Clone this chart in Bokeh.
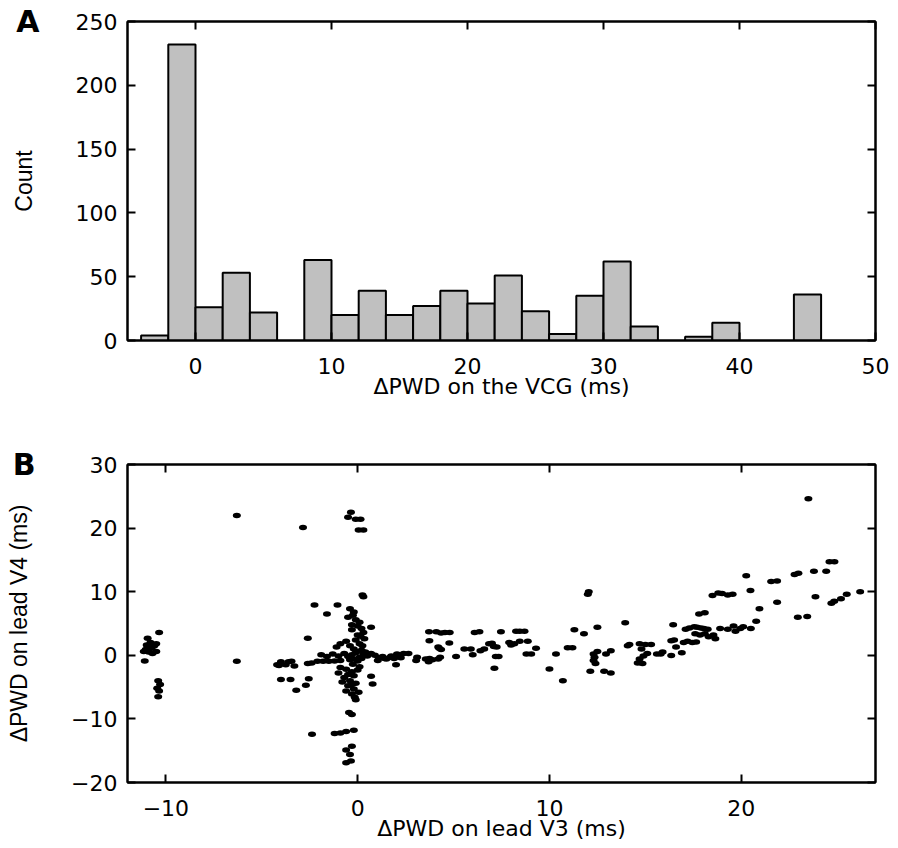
from bokeh.plotting import figure
from bokeh.models import Range1d, LinearAxis, FixedTicker, ColumnDataSource, CustomLabelingPolicy
from bokeh.layouts import column
from bokeh.embed import file_html
from bokeh.resources import INLINE

# ---------------- data ----------------
# Panel A: histogram of dPWD on the VCG (bin start, ms) and counts (bin width 2 ms)
bin_start = [-4, -2, 0, 2, 4, 8, 10, 12, 14, 16, 18, 20, 22, 24, 26, 28, 30, 32, 36, 38, 44]
bin_width = 2
counts = [4, 232, 26, 53, 22, 63, 20, 39, 20, 27, 39, 29, 51, 23, 5, 35, 62, 11, 3, 14, 36]
hist_xticks = [0, 10, 20, 30, 40, 50]
hist_yticks = [0, 50, 100, 150, 200, 250]

# Panel B: dPWD on lead V3 (x) vs dPWD on lead V4 (y), ms
v3 = [
    # cluster near -11
    -11.1, -10.95, -10.35, -11.0, -10.8, -10.5, -11.05, -10.9, -10.7, -10.5, -10.75, -10.95, -10.6, -11.15,
    -10.4, -10.3, -10.45, -10.35, -10.4,
    # isolated, left
    -6.3, -6.3, -2.85, -2.25, -2.6, -2.38,
    -4.2, -4.0, -3.75, -3.6, -3.3, -3.45, -4.1,
    -4.0, -3.5, -3.2, -2.7, -2.55,
    -2.6, -2.4, -2.1, -1.8, -1.5, -1.2, -0.9,
    -1.6, -1.05,
    # top centre
    -0.35, -0.5, -0.1, 0.15, 0.05, 0.3,
    0.25, 0.3,
    # vertical cluster near 0 (upper)
    -0.4, -0.2, -0.5, -0.1, 0.1, -0.3, 0.2, 0.3, 0.0, 0.35, -0.1, -0.6, -0.9, -1.1, -0.4, 0.1, -0.2, 0.2, 0.7,
    0.15, 0.25, -0.05, 0.4, -0.25, 0.0, -0.3,
    # horizontal band near 0
    -1.9, -1.6, -1.3, -1.0, -0.7, -0.5, -0.3, -0.1, 0.1, 0.3, 0.5, 0.7, 0.9, 1.1, 1.3, 1.5, 1.7, 1.9, 2.1, 2.25,
    -0.2, 0.0, 0.2, -0.4,
    # vertical cluster near 0 (lower)
    -0.9, -0.6, -0.3, -1.0, -0.2, -0.7, -0.4, -0.1, -0.5, -0.2, -0.6, -0.3, -0.1, 0.78, 0.7,
    -0.25, 0.1, -0.5, 0.0, -0.3, -0.8, 0.05, -0.15,
    -0.3, -0.45,
    -1.2, -0.9, -0.6, -0.2,
    -0.3, -0.6, -0.4,
    -0.6, -0.35,
    # middle band
    1.05, 1.4, 1.75, 2.05, 2.4, 2.65, 2.0, 3.05, 3.1, 3.55, 3.7, 3.75, 3.9, 4.2, 4.3,
    3.72, 4.1, 4.35, 4.55, 4.8, 3.74, 4.78, 4.2, 4.35, 4.25, 5.13, 5.56, 5.9, 6.1, 6.35,
    6.0, 6.4, 6.6, 6.85, 7.0, 7.1, 7.25, 7.2, 7.35, 7.13, 7.47, 8.26, 8.45, 8.7,
    7.9, 8.0, 8.17, 8.45, 8.87, 8.8, 9.05, 9.3, 10.0, 10.34, 10.95, 11.2, 10.7, 11.3, 11.8,
    12.5, 12.3, 12.35, 12.3, 12.4, 12.5, 12.13, 12.85, 13.2, 12.95, 13.2, 12.0, 12.05,
    # right region
    13.95, 14.08, 14.17,
    14.7, 15.0, 15.3, 14.8, 15.1, 14.9, 14.7, 14.6, 14.85,
    15.6, 15.9, 15.8, 16.35, 16.45, 16.35, 16.5, 16.6, 16.9,
    17.0, 17.2, 17.45, 17.65,
    17.1, 17.3, 17.55, 17.7, 17.9, 18.05, 18.25,
    17.6, 17.85, 18.1, 18.3, 18.55, 18.65,
    17.8, 18.1,
    18.5, 18.8, 19.0, 19.3, 19.55,
    18.9, 19.3, 19.6, 19.95, 19.7, 20.5, 20.1,
    20.26, 20.48, 20.78, 20.95,
    21.56, 21.87, 21.87,
    22.78, 22.98, 22.95, 23.44,
    23.79, 23.87, 24.43, 24.6, 24.86,
    24.7, 24.85, 25.2, 25.5, 26.2,
    23.5,
]
v4 = [
    # cluster near -11
    -0.9, 2.7, 3.6, 1.6, 2.0, 1.8, 0.9, 0.5, 0.3, 0.6, 1.1, 1.3, 1.5, 0.6,
    -4.0, -4.6, -5.2, -5.6, -6.5,
    # isolated, left
    22.0, -0.95, 20.1, 7.9, 2.7, -12.4,
    -1.5, -1.0, -1.5, -1.0, -1.7, -0.95, -1.6,
    -3.8, -3.8, -5.5, -4.7, -3.7,
    -1.3, -1.2, -0.95, -0.95, -0.95, -0.9, -0.8,
    6.5, 7.9,
    # top centre
    22.5, 21.7, 21.4, 21.4, 19.7, 19.7,
    9.5, 9.2,
    # vertical cluster near 0 (upper)
    7.3, 6.8, 6.0, 5.6, 5.2, 4.8, 4.2, 3.6, 3.2, 2.6, 2.4, 2.2, 1.8, 1.3, 1.5, 1.8, 1.0, 0.8, 4.4,
    3.0, 1.5, 0.6, 0.5, 6.3, 4.6, 4.0,
    # horizontal band near 0
    0.1, -0.2, 0.2, -0.1, 0.3, -0.2, 0.1, 0.4, -0.3, 0.2, -0.1, 0.3, 0.0, -0.4, -0.2, -0.6, -0.3, -0.5, 0.1, -0.4,
    -0.6, -0.9, -0.5, -0.7,
    # vertical cluster near 0 (lower)
    -1.9, -2.2, -2.6, -2.8, -3.2, -3.5, -4.0, -4.4, -4.8, -5.3, -5.6, -6.1, -7.0, -4.5, -3.3,
    -1.4, -1.8, -3.0, -2.3, -4.6, -4.2, -5.8, -6.6,
    -9.3, -9.0,
    -12.3, -12.2, -12.0, -11.8,
    -14.3, -14.9, -15.6,
    -16.9, -16.6,
    # middle band
    -0.8, -0.5, -0.1, 0.2, 0.3, 0.3, -1.5, -0.8, -0.3, -0.6, -1.0, -0.5, -0.7, -0.6, -0.3,
    3.7, 3.7, 3.5, 3.6, 3.6, 2.3, 1.95, 1.3, 0.9, 1.1, -0.2, 1.0, 1.0, 3.6, 3.7,
    0.1, 0.7, 1.0, 1.8, 1.9, 1.4, 1.3, -0.2, -0.2, -2.05, 3.7, 3.8, 3.8, 3.8,
    2.0, 1.6, 1.8, 2.2, 2.2, 0.2, 0.2, 1.1, -2.15, 0.2, 1.2, 1.2, -4.0, 4.0, 3.4,
    4.4, 0.2, -0.3, -0.8, -1.3, 0.6, -2.5, -2.5, -2.8, 0.2, 0.7, 9.6, 10.0,
    # right region
    5.1, 1.5, 1.7,
    1.8, 1.7, 1.7, 1.0, 0.3, -0.1, -0.6, -1.2, -1.3,
    0.2, 0.5, 0.2, -0.05, 4.8, 2.3, 2.4, 1.3, 0.4,
    2.0, 2.2, 2.0, 2.1,
    4.1, 4.3, 4.5, 4.4, 4.3, 4.2, 4.1,
    3.4, 3.2, 3.4, 2.9, 3.2, 2.6,
    6.5, 6.7,
    9.4, 9.8, 9.7, 9.5, 9.6,
    4.2, 4.1, 4.6, 4.2, 3.8, 4.2, 4.5,
    12.5, 10.2, 5.35, 7.3,
    11.6, 11.7, 8.33,
    12.7, 12.9, 6.0, 6.1,
    13.2, 9.2, 13.2, 14.7, 14.7,
    8.2, 8.5, 8.9, 9.6, 10.0,
    24.6,
]
scat_xticks = [-10, 0, 10, 20]
scat_yticks = [-20, -10, 0, 10, 20, 30]

TICK_FONT = "DejaVu Sans"
XLAB_FONT = "DejaVu Sans"
YLAB_FONT = "Liberation Sans"


def box_axes(p, xticks, yticks, xlabel, ylabel, xover=None, yover=None):
    top = LinearAxis()
    right = LinearAxis()
    p.add_layout(top, "above")
    p.add_layout(right, "right")
    for ax in p.xaxis:
        ax.ticker = FixedTicker(ticks=xticks)
    for ax in p.yaxis:
        ax.ticker = FixedTicker(ticks=yticks)
    for ax in p.axis:
        ax.major_tick_in = 8
        ax.major_tick_out = 0
        ax.minor_tick_line_color = None
        ax.axis_line_width = 2
        ax.axis_line_color = "black"
        ax.major_tick_line_width = 2
        ax.major_tick_line_color = "black"
        ax.major_label_text_font = TICK_FONT
        ax.major_label_text_font_size = "22px"
        ax.major_label_text_color = "black"
    for ax in (top, right):
        # tick marks only: labels are suppressed entirely
        ax.major_label_policy = CustomLabelingPolicy(code="")
        ax.major_label_text_font_size = "1px"
        ax.major_label_standoff = 0
    bx = p.below[0]
    ly = p.left[0]
    bx.axis_label = xlabel
    bx.axis_label_text_font = XLAB_FONT
    bx.axis_label_text_font_size = "22px"
    bx.axis_label_text_font_style = "normal"
    bx.axis_label_text_color = "black"
    bx.axis_label_standoff = -3
    bx.major_label_standoff = 17
    ly.axis_label = ylabel
    ly.axis_label_text_font = YLAB_FONT
    ly.axis_label_text_font_size = "23px"
    ly.axis_label_text_font_style = "normal"
    ly.axis_label_text_color = "black"
    ly.axis_label_standoff = 36
    ly.major_label_standoff = 10
    if xover:
        bx.major_label_overrides = xover
    if yover:
        ly.major_label_overrides = yover
    p.outline_line_color = "black"
    p.outline_line_width = 2
    p.xgrid.visible = False
    p.ygrid.visible = False


def panel_letter(p, top_value, letter, standoff):
    # an outer left axis whose single tick label (at the top of the range) is the panel letter
    ax = LinearAxis(ticker=FixedTicker(ticks=[top_value]),
                    major_label_overrides={top_value: letter})
    ax.axis_line_color = None
    ax.major_tick_line_color = None
    ax.minor_tick_line_color = None
    ax.major_tick_in = 0
    ax.major_tick_out = 0
    ax.major_label_standoff = standoff
    ax.major_label_text_font = "DejaVu Sans"
    ax.major_label_text_font_size = "30px"
    ax.major_label_text_font_style = "bold"
    ax.major_label_text_color = "black"
    p.add_layout(ax, "left")


# ---------------- panel A ----------------
p1 = figure(width=898, height=420, output_backend="svg", toolbar_location=None,
            x_range=Range1d(-5, 50), y_range=Range1d(0, 250),
            min_border_left=127, min_border_right=23, min_border_top=21, min_border_bottom=80,
            background_fill_color="white", border_fill_color="white")
bin_end = [b + bin_width for b in bin_start]
p1.quad(left=bin_start, right=bin_end, bottom=0, top=counts,
        fill_color="#c0c0c0", line_color="black", line_width=2)
box_axes(p1, hist_xticks, hist_yticks, "\u0394PWD on the VCG (ms)", "Count")
panel_letter(p1, hist_yticks[-1], "A", -32)

# ---------------- panel B ----------------
p2 = figure(width=898, height=428, output_backend="svg", toolbar_location=None,
            x_range=Range1d(-12, 27), y_range=Range1d(-20, 30),
            min_border_left=127, min_border_right=23, min_border_top=44, min_border_bottom=66,
            background_fill_color="white", border_fill_color="white")
src = ColumnDataSource(dict(x=v3, y=v4))
p2.ellipse(x="x", y="y", width=8, height=5.5, width_units="screen", height_units="screen",
           fill_color="black", line_color=None, source=src)
box_axes(p2, scat_xticks, scat_yticks, "\u0394PWD on lead V3 (ms)", "\u0394PWD on lead V4 (ms)",
         xover={-10: "\u221210"}, yover={-10: "\u221210", -20: "\u221220"})
panel_letter(p2, scat_yticks[-1], "B", -32)

layout = column(p1, p2, spacing=0)
open("out.html", "w").write(file_html(layout, INLINE))
